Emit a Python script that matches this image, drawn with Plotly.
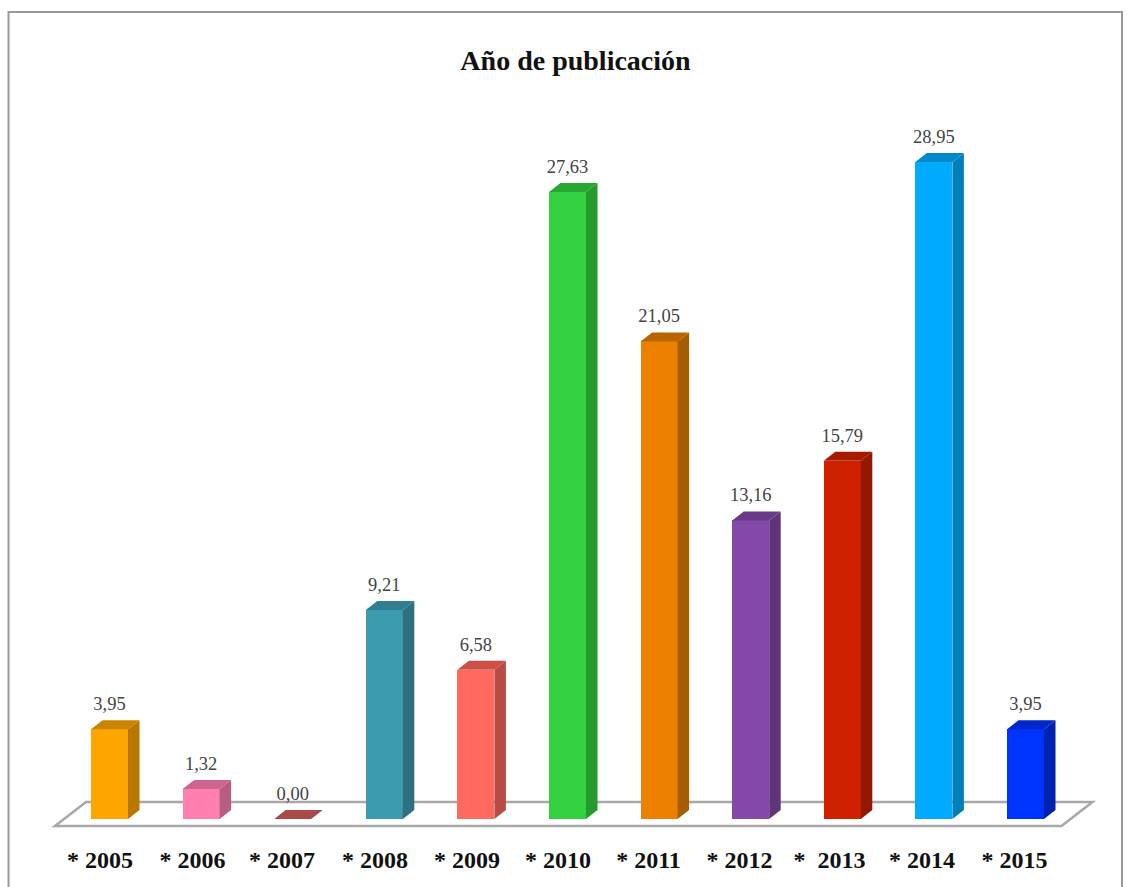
import plotly.graph_objects as go

categories = ["* 2005", "* 2006", "* 2007", "* 2008", "* 2009", "* 2010", "* 2011", "* 2012", "*  2013", "* 2014", "* 2015"]
values = [3.95, 1.32, 0.00, 9.21, 6.58, 27.63, 21.05, 13.16, 15.79, 28.95, 3.95]
value_labels = ["3,95", "1,32", "0,00", "9,21", "6,58", "27,63", "21,05", "13,16", "15,79", "28,95", "3,95"]
front_colors = ["#FFA500", "#FF7FB0", "#A84A45", "#3D9BB0", "#FF6A60", "#33D13F", "#EC8000", "#8448A8", "#CF2000", "#00AAFF", "#0033FF"]
side_colors = ["#B87700", "#B85C80", "#A84A45", "#2D7080", "#B84B45", "#259A2E", "#A85C00", "#5F3478", "#941700", "#0080B8", "#0022B0"]
top_colors = ["#C98500", "#CC6691", "#A84A45", "#327E90", "#CC5048", "#28A832", "#B86500", "#6A3A88", "#A51A00", "#0088CC", "#0028C8"]

W, H = 1129, 887
PX_X0, PX_STEP = 109.5, 91.6      # pixel centre of first bar, bar spacing
PX_Y0, PX_UNIT = 819.0, 22.69     # pixel of value 0, pixels per value unit
BOTTOM_MARGIN = 44

bar_w = 37 / PX_STEP
dx = 11.5 / PX_STEP
dy = 9 / PX_UNIT
label_gap = 5.5 / PX_UNIT

x_range = [(0 - PX_X0) / PX_STEP, (W - PX_X0) / PX_STEP]
y_range = [(PX_Y0 - (H - BOTTOM_MARGIN)) / PX_UNIT, PX_Y0 / PX_UNIT]

n = len(values)
idx = list(range(n))
fig = go.Figure()

# floor, below every trace
fl = -54.5 / PX_STEP
fr = 952.0 / PX_STEP
f_front = -7 / PX_UNIT
f_dx = 31 / PX_STEP
f_dy = 24 / PX_UNIT
floor_path = (f"M {fl} {f_front} L {fl + f_dx} {f_front + f_dy} L {fr + f_dx} {f_front + f_dy} "
              f"L {fr} {f_front} Z")

# side and top faces
for i, v in enumerate(values):
    l, r = i - bar_w / 2, i + bar_w / 2
    if v > 0:
        fig.add_trace(go.Scatter(
            x=[r, r + dx, r + dx, r, r], y=[0, dy, v + dy, v, 0],
            mode="lines", line=dict(width=0), fill="toself", fillcolor=side_colors[i],
            hoverinfo="skip", showlegend=False))
    fig.add_trace(go.Scatter(
        x=[l, l + dx, r + dx, r, l], y=[v, v + dy, v + dy, v, v],
        mode="lines", line=dict(width=0), fill="toself", fillcolor=top_colors[i],
        hoverinfo="skip", showlegend=False))

# front faces
fig.add_trace(go.Bar(x=idx, y=values, width=bar_w, marker=dict(color=front_colors, line=dict(width=0)),
                     showlegend=False, hoverinfo="x+y"))

# value labels
fig.add_trace(go.Scatter(
    x=idx, y=[v + dy + label_gap for v in values], mode="text", text=value_labels, textposition="top center",
    textfont=dict(family="Liberation Serif", size=18.5, color="#444444"),
    hoverinfo="skip", showlegend=False))

label_shift_px = [-9.5, -8.6, -10.7, -9.3, -8.9, -9.5, -10.6, -11.2, -12.8, -11.9, -11]
fig.update_layout(
    width=W, height=H, margin=dict(l=0, r=0, t=0, b=BOTTOM_MARGIN, pad=0),
    paper_bgcolor="white", plot_bgcolor="white", bargap=0,
    title=dict(text="<b>Año de publicación</b>", x=575.5 / W, xanchor="center", y=1 - 60 / H, yanchor="middle",
               font=dict(family="Liberation Serif", size=28, color="#111111")),
    xaxis=dict(range=x_range, showgrid=False, zeroline=False, showline=False, ticks="",
               tickmode="array", tickvals=[i + s / PX_STEP for i, s in enumerate(label_shift_px)],
               ticktext=[f"<b>{c}</b>" for c in categories], tickangle=0, ticklabelstandoff=0,
               tickfont=dict(family="Liberation Serif", size=24, color="#111111")),
    yaxis=dict(range=y_range, showgrid=False, zeroline=False, showline=False, visible=False),
    shapes=[
        dict(type="rect", xref="paper", yref="paper", x0=8.5 / W, x1=1122 / W, y0=-1, y1=1 - 12.5 / H,
             line=dict(color="#999999", width=2), layer="below"),
        dict(type="path", xref="x", yref="y", path=floor_path, fillcolor="#FFFFFF",
             line=dict(color="#A8A8A8", width=2.5), layer="below"),
    ],
)
fig.write_html("out.html", config=dict(displayModeBar=False),
               post_script="document.body.style.margin='0';window.dispatchEvent(new Event('resize'));")
